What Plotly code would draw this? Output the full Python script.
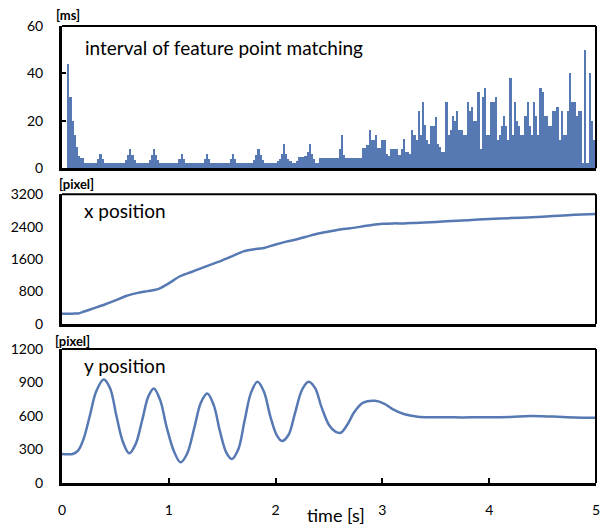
import plotly.graph_objects as go

# ---------------- data ----------------
# interval of feature point matching [ms], one value every 0.02 s from t = 0
interval_ms = [
    0, 0, 0, 44, 30, 20, 14, 9, 5, 4.2, 4.2,
    2.2, 2.2, 2.2, 2.2, 2.2, 2.2, 4, 6, 4, 2.2,
    2.2, 2.2, 2.2, 2.2, 2.2, 2.2, 2.2, 2.2, 2.2, 3.5,
    5.5, 8, 5.5, 3.5, 2.2, 2.2, 2.2, 2.2, 2.2, 2.2,
    3.5, 5.5, 8, 5.5, 3.5, 2.2, 2.2, 2.2, 2.2, 2.2,
    2.2, 2.2, 2.2, 2.2, 4, 6, 4, 2.2, 2.2, 2.2,
    2.2, 2.2, 2.2, 2.2, 2.2, 2.2, 4, 6, 4, 2.2,
    2.2, 2.2, 2.2, 2.2, 2.2, 2.2, 2.2, 2.2, 4, 6,
    4, 2.2, 2.2, 2.2, 2.2, 2.2, 2.2, 2.2, 2.2, 3.5,
    5.5, 8, 5.5, 3.5, 2.2, 2.2, 2.2, 2.2, 2.2, 2.2,
    3, 4, 6, 10, 6, 4, 3, 2.2, 2.2, 3,
    4.5, 4.5, 4.5, 5, 7, 10, 6, 4, 2.2, 2.2,
    4.1, 4.1, 4.1, 4.1, 4.1, 4.1, 4.1, 4.1, 4.1, 8,
    14, 5.5, 4.1, 4.1, 4.1, 4.1, 4.1, 4.1, 4.1, 4.1,
    8.3, 8.3, 9.7, 16, 12, 12, 14, 8.5, 8.5, 12,
    12, 6, 5, 8, 8, 8, 8, 5.5, 8, 12.3,
    7, 7, 6, 16, 14, 12, 24, 14, 28, 18,
    12, 10, 17.7, 17.7, 21.7, 10, 9, 7, 7, 28,
    14, 16, 22, 20, 24, 16, 16, 14, 14, 28,
    24, 26, 20, 20, 32, 8, 30, 34, 14, 14,
    28, 28, 30, 12, 14, 17.7, 22, 17.7, 12, 38,
    14, 28, 20, 17.7, 14, 14, 22, 28, 17.7, 14,
    28, 22, 14, 34, 32, 22, 22, 17.7, 17.7, 24,
    24, 26, 12, 24, 14, 14, 24, 40, 28, 28,
    22, 24, 24, 2, 50, 2, 40, 20, 12, 12,
]
interval_t = [round(0.02 * i, 2) for i in range(len(interval_ms))]

# x position [pixel]
xpos_t = [0.0, 0.1, 0.15, 0.2, 0.3, 0.4, 0.5, 0.6, 0.7, 0.8, 0.9, 1.0,
          1.1, 1.2, 1.3, 1.4, 1.5, 1.6, 1.7, 1.8, 1.9, 2.0, 2.1, 2.2,
          2.3, 2.4, 2.5, 2.6, 2.7, 2.8, 2.9, 3.0, 3.1, 3.2, 3.3, 3.4,
          3.6, 3.8, 4.0, 4.2, 4.4, 4.6, 4.8, 5.0]
xpos_px = [250, 255, 260, 300, 390, 480, 580, 690, 760, 810, 860, 1000,
           1170, 1270, 1370, 1470, 1570, 1680, 1790, 1840, 1880, 1960, 2030, 2090,
           2160, 2230, 2280, 2330, 2360, 2400, 2440, 2470, 2480, 2480, 2490, 2500,
           2530, 2560, 2590, 2610, 2630, 2660, 2690, 2710]

# y position [pixel]
ypos_t = [0.0, 0.05, 0.1, 0.15, 0.2, 0.26, 0.32, 0.39, 0.45, 0.51, 0.57, 0.63,
          0.69, 0.75, 0.81, 0.86, 0.92, 0.98, 1.05, 1.11, 1.17, 1.24, 1.30, 1.36,
          1.42, 1.48, 1.54, 1.59, 1.65, 1.71, 1.77, 1.83, 1.89, 1.95, 2.01, 2.06,
          2.12, 2.18, 2.25, 2.31, 2.37, 2.43, 2.50, 2.56, 2.61, 2.67, 2.74, 2.82,
          2.93, 3.02, 3.10, 3.20, 3.33, 3.5, 3.75, 4.0, 4.2, 4.38, 4.6, 4.8, 5.0]
ypos_px = [260, 258, 260, 290, 390, 600, 820, 928, 850, 600, 370, 266,
           350, 560, 780, 848, 740, 500, 280, 185, 260, 500, 720, 803,
           700, 460, 270, 215, 300, 560, 810, 907, 820, 600, 430, 376,
           430, 620, 840, 907, 850, 680, 520, 460, 450, 520, 640, 720,
           737, 710, 660, 618, 594, 590, 588, 590, 592, 600, 595, 588, 585]

x_ticks = [0, 1, 2, 3, 4, 5]

# ---------------- figure ----------------
BLUE = '#5679B3'
FONT = 'Lato, Carlito, Calibri, sans-serif'

fig = go.Figure()
fig.add_trace(go.Bar(x=interval_t, y=interval_ms, width=0.02,
                     marker=dict(color=BLUE, line=dict(width=0)),
                     xaxis='x', yaxis='y', showlegend=False))
fig.add_trace(go.Scatter(x=xpos_t, y=xpos_px, mode='lines',
                         line=dict(color=BLUE, width=2.5, shape='spline', smoothing=0.6),
                         xaxis='x2', yaxis='y2', showlegend=False))
fig.add_trace(go.Scatter(x=ypos_t, y=ypos_px, mode='lines',
                         line=dict(color=BLUE, width=2.5, shape='spline', smoothing=1.0),
                         xaxis='x3', yaxis='y3', showlegend=False))

tickfont = dict(family=FONT, size=14, color='#000000')

def xaxis(anchor, show_labels, layer='above traces'):
    return dict(domain=[0, 1], anchor=anchor, range=[0, 5],
                showline=True, linecolor='black', linewidth=3,
                showgrid=False, zeroline=False, layer=layer,
                tickvals=x_ticks if show_labels else [],
                showticklabels=show_labels,
                ticks='inside' if show_labels else '', ticklen=5, tickwidth=2,
                tickcolor='black', tickfont=tickfont, ticklabelstandoff=12)

def yaxis(anchor, domain, rng, dtick, ticks=''):
    return dict(domain=domain, anchor=anchor, range=rng, dtick=dtick,
                showline=True, linecolor='black', linewidth=3,
                showgrid=False, zeroline=False,
                ticks=ticks, ticklen=4, tickwidth=1.5, tickcolor='black',
                tickfont=tickfont, ticklabelstandoff=13)

fig.update_layout(
    width=608, height=527,
    margin=dict(l=62, r=8, t=26, b=44),
    paper_bgcolor='white', plot_bgcolor='white',
    bargap=0,
    font=dict(family=FONT, color='black'),
    xaxis=xaxis('y', False, layer='below traces'),
    xaxis2=xaxis('y2', False),
    xaxis3=xaxis('y3', True),
    yaxis=yaxis('x', [0.689, 1.0], [0, 60], 20, ticks='inside'),
    yaxis2=yaxis('x2', [0.348, 0.632], [0, 3200], 800),
    yaxis3=yaxis('x3', [0.0, 0.293], [0, 1200], 300),
)

# top and right frame edges of each panel
shapes = []
for xr, yr in [('x', 'y'), ('x2', 'y2'), ('x3', 'y3')]:
    shapes.append(dict(type='line', xref=f'{xr} domain', yref=f'{yr} domain',
                       x0=0, x1=1, y0=1, y1=1, line=dict(color='black', width=2)))
    shapes.append(dict(type='line', xref=f'{xr} domain', yref=f'{yr} domain',
                       x0=1, x1=1, y0=0, y1=1, line=dict(color='black', width=2)))
fig.update_layout(shapes=shapes)

def ann(text, x, y, size, bold=False, xanchor='left'):
    return dict(text=f'<b>{text}</b>' if bold else text, x=x, y=y,
                xref='paper', yref='paper', xanchor=xanchor, yanchor='middle',
                showarrow=False, font=dict(family=FONT, size=size, color='black'))

fig.update_layout(annotations=[
    ann('[ms]', 0.011, 1.024, 13, bold=True, xanchor='center'),
    ann('[pixel]', 0.028, 0.654, 13, bold=True, xanchor='center'),
    ann('[pixel]', 0.019, 0.311, 13, bold=True, xanchor='center'),
    ann('interval of feature point matching', 0.039, 0.954, 19),
    ann('x position', 0.037, 0.597, 19),
    ann('y position', 0.037, 0.258, 19),
    ann('time [s]', 0.513, -0.070, 18, xanchor='center'),
])

fig.write_html('out.html', config={'displayModeBar': False},
               post_script="document.body.style.margin='0';document.body.style.overflow='hidden';")
